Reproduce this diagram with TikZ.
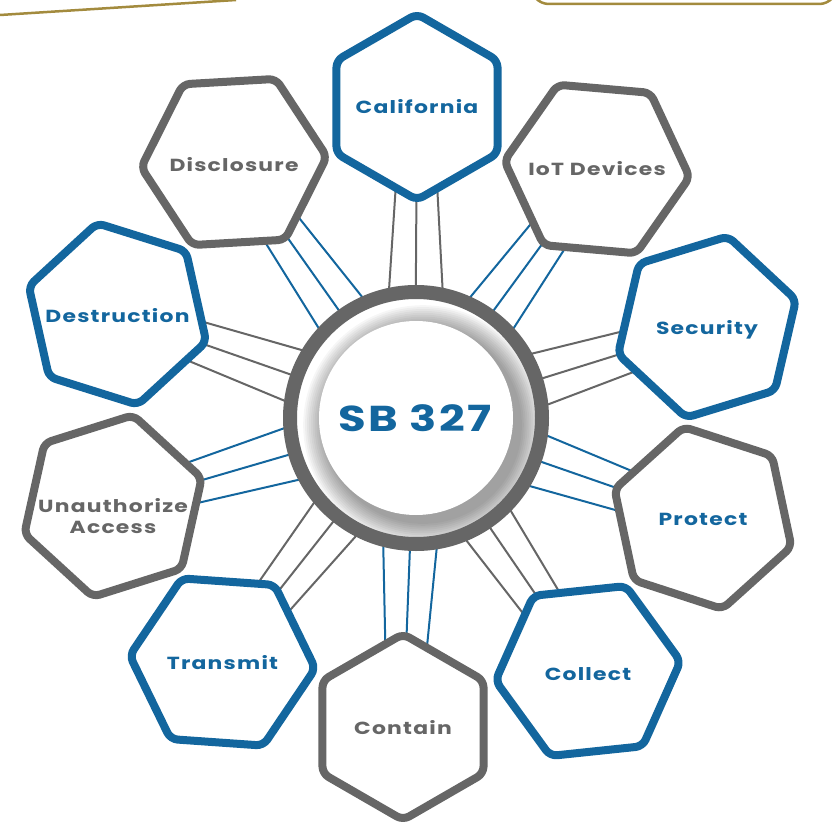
\documentclass[tikz,border=0pt]{standalone}
\usepackage{fontspec}
\newfontfamily\hexfont{Poppins}[FakeStretch=1.25,LetterSpace=7]
\usepackage{xcolor}
\definecolor{sbblue}{HTML}{13669E}
\definecolor{sbgray}{HTML}{666666}
\definecolor{sbgold}{HTML}{A38B3E}
\usepackage{tikz}
\usetikzlibrary{calc}
\pgfdeclarelayer{back}
\pgfsetlayers{back,main}

% hexagon cell: name, x, y, rotation, border colour, text colour, label drop, text
\newcommand{\hexcell}[8]{%
  \draw[hexborder, draw=#5] (#2,#3) +(#4:93) -- +({#4+60}:93) -- +({#4+120}:93)
    -- +({#4+180}:93) -- +({#4+240}:93) -- +({#4+300}:93) -- cycle;
  \node[hexlabel, text=#6] (#1) at (#2,#3) {};
  \node[hexlabel, text=#6] (#1t) at (#2,#3+#7) {#8};}

% three spokes from the hub ring to a cell
\newcommand{\links}[2]{%
  \draw[link, draw=#2] ($(hub.center)!125pt!(#1.center)!27pt!90:(#1.center)$) -- ($(#1.center)!16pt!-90:(hub.center)$);
  \draw[link, draw=#2] ($(hub.center)!125pt!(#1.center)$) -- (#1.center);
  \draw[link, draw=#2] ($(hub.center)!125pt!(#1.center)!27pt!-90:(#1.center)$) -- ($(#1.center)!16pt!90:(hub.center)$);}

\begin{document}
\begin{tikzpicture}[x=1pt, y=-1pt,
  hexborder/.style={line width=8pt, fill=white, rounded corners=7pt, line join=round},
  hexlabel/.style={font=\hexfont\bfseries\fontsize{17.5}{21.5}\selectfont, align=center, inner sep=0pt},
  link/.style={line width=2pt},
  goldline/.style={draw=sbgold, line width=2.5pt}]
  \useasboundingbox (0,0) rectangle (833,832);
  \clip (0,0) rectangle (833,832);
  % frame pieces
  \draw[goldline] (0,15) -- (236,0);
  \draw[goldline, rounded corners=18pt] (531,-40) rectangle (837,4);
  % hub
  \fill[white] (416,418) circle (119);
  \foreach \k in {1,...,12}
    \fill[black, opacity=0.035] (423,425) circle ({97+1.9*\k});
  \fill[white] (416,418) circle (97);
  \draw[sbgray, line width=14pt] (416,418) circle (126);
  \node[font=\hexfont\bfseries\fontsize{36}{36}\selectfont, text=sbblue] (hub) at (415,418) {SB 327};
  % cells
  \hexcell{cal}{417}{107}{90}{sbblue}{sbblue}{0}{California}
  \hexcell{iot}{597}{169}{5}{sbgray}{sbgray}{0}{IoT Devices}
  \hexcell{sec}{707}{327}{-17}{sbblue}{sbblue}{3}{Security}
  \hexcell{pro}{703}{518}{18}{sbgray}{sbblue}{1}{Protect}
  \hexcell{col}{588}{671}{-6}{sbblue}{sbblue}{3}{Collect}
  \hexcell{con}{403}{727}{90}{sbgray}{sbgray}{1}{Contain}
  \hexcell{tra}{222.5}{662}{4}{sbblue}{sbblue}{1}{Transmit}
  \hexcell{una}{113}{506}{-17.5}{sbgray}{sbgray}{10}{Unauthorize\\Access}
  \hexcell{des}{117.5}{314}{17.4}{sbblue}{sbblue}{2}{Destruction}
  \hexcell{dis}{234}{162}{-3.3}{sbgray}{sbgray}{3}{Disclosure}
  % spokes
  \begin{pgfonlayer}{back}
    \links{cal}{sbgray}
    \links{iot}{sbblue}
    \links{sec}{sbgray}
    \links{pro}{sbblue}
    \links{col}{sbgray}
    \links{con}{sbblue}
    \links{tra}{sbgray}
    \links{una}{sbblue}
    \links{des}{sbgray}
    \links{dis}{sbblue}
  \end{pgfonlayer}
\end{tikzpicture}
\end{document}
